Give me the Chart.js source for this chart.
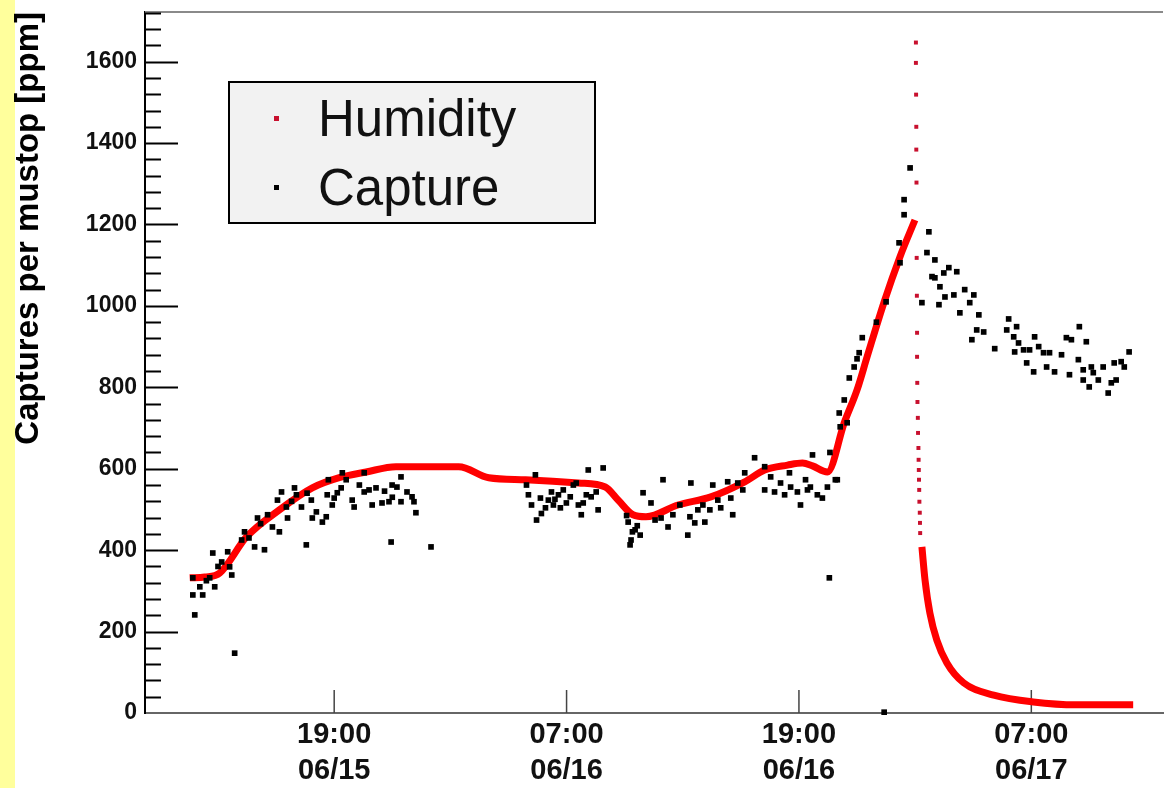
<!DOCTYPE html>
<html>
<head>
<meta charset="utf-8">
<script src="https://cdn.jsdelivr.net/npm/chart.js@4"></script>
<style>
  html, body { margin: 0; padding: 0; background: #fff; }
  #wrap { position: relative; width: 1167px; height: 788px; overflow: hidden; }
  #strip { position: absolute; left: 0; top: 0; width: 15px; height: 788px; background: #ffff9c; }
  canvas { position: absolute; left: 0; top: 0; }
</style>
</head>
<body>
<div id="wrap">
  <div id="strip"></div>
  <canvas id="chart" width="1167" height="788"></canvas>
</div>
<script>
// time axis: hours counted from 06/15 00:00
const xTickHours = [19, 31, 43, 55];
const xTickLabels = [['19:00', '06/15'], ['07:00', '06/16'], ['19:00', '06/16'], ['07:00', '06/17']];
const yTicks = [0, 200, 400, 600, 800, 1000, 1200, 1400, 1600];

// humidity curve (null = gap where the reading jumps)
const humidityHours = [11.54, 12.32, 13.09, 14.48, 16.17, 17.87, 19.26, 20.65, 22.19, 25.43, 26.98, 28.88,
  31.61, 33.0, 33.66, 34.43, 35.1, 36.75, 38.45, 40.2, 41.23, 42.41, 43.18, 43.7, 44.47, 45.34, 46.01,
  46.52, 47.40, 48.22, 48.99, 49.2,
  49.35, 49.51, 49.76, 50.12, 50.64, 51.51, 53.06, 55.10, 57.33, 60.26];
const humidityPpm = [332, 334, 344, 433, 499, 553, 578, 592, 605, 605, 578, 573,
  565, 555, 523, 487, 482, 511, 531, 568, 597, 609, 614, 607, 592, 713, 795,
  875, 1010, 1121, 1211, null,
  408, 327, 246, 179, 123, 74, 44, 27, 20, 20];

// sparse humidity samples during the fast jump and drop
const spikeHours = [49.04, 49.04, 49.05, 49.06, 49.06, 49.07, 49.08, 49.09, 49.10, 49.10, 49.11, 49.12,
  49.14, 49.15, 49.17, 49.18, 49.19, 49.20, 49.21, 49.22, 49.24, 49.25, 49.26];
const spikePpm = [1647, 1597, 1519, 1440, 1384, 1303, 1118, 1025, 934, 875, 811, 764,
  725, 688, 651, 622, 597, 573, 548, 519, 492, 467, 442];

const captureHours = [
  11.80, 11.70, 12.21, 12.06, 12.83, 11.70, 12.57, 12.73, 13.50, 13.19, 13.71, 13.60, 14.22, 14.37, 14.89,
  15.40, 15.04, 15.56, 15.81, 16.17, 16.07, 16.28, 16.59, 16.53, 16.95, 17.05, 17.31, 17.56, 17.82, 17.87,
  18.08, 18.39, 18.59, 18.64, 19.00, 18.90, 19.16, 19.36, 19.42, 19.62, 19.93, 20.03, 20.55, 20.80, 21.16,
  20.96, 21.47, 21.83, 21.99, 22.24, 22.45, 22.45, 22.76, 23.02, 23.12, 23.22, 21.94, 24.00, 20.55, 18.70,
  13.86, 12.40, 13.00, 14.60, 15.20, 16.80, 17.60, 20.30, 21.60, 22.00,
  29.39, 28.93, 29.03, 29.19, 29.45, 29.65, 29.91, 30.06, 30.22, 30.32, 30.58, 30.68, 30.83, 30.99, 31.19,
  31.35, 31.61, 31.76, 31.86, 32.02, 32.12, 32.27, 32.63, 32.89, 32.53, 31.50, 29.70, 30.40,
  34.18, 34.54, 34.80, 34.33, 34.28, 34.40, 34.65, 34.10, 34.95, 35.36, 35.57, 35.88, 35.98, 36.24, 36.49,
  36.85, 37.26, 37.37, 37.42, 37.62, 37.78, 38.04, 38.14, 38.40, 38.55, 38.81, 38.96, 39.32, 39.48, 39.58,
  39.84, 40.20, 40.10, 40.71, 41.23, 41.23, 41.54, 41.74, 42.05, 42.26, 42.51, 42.57, 42.92, 43.08, 43.34,
  43.70, 43.59, 43.44, 43.95, 44.21, 44.47, 44.88, 44.98, 44.57, 44.60,
  45.08, 45.34, 45.49, 45.13, 45.60, 45.85, 46.00, 46.11, 46.27, 47.00, 47.50, 47.40,
  48.22, 48.17, 48.43, 48.43, 48.74,
  49.71, 49.61, 50.02, 49.87, 50.02, 50.48, 50.74, 51.15, 50.28, 50.54, 51.00, 50.23, 49.35, 51.56, 52.03,
  51.82, 51.31, 52.29, 52.18, 52.54, 51.93, 53.11, 53.83, 54.24, 53.73, 54.09, 54.34, 54.60, 55.17, 54.91,
  54.14, 54.76, 55.12, 55.38, 55.63, 55.79, 56.20, 55.94, 56.56, 56.81, 57.07, 57.48, 57.84, 57.43, 56.97,
  57.68, 57.68, 58.10, 58.20, 58.46, 57.99, 58.71, 58.97, 59.13, 59.38, 59.28, 59.64, 59.80, 60.05];
const capturePpm = [
  241, 290, 290, 310, 310, 332, 332, 393, 396, 371, 339, 359, 425, 445, 408,
  401, 479, 487, 457, 445, 523, 543, 479, 506, 553, 536, 506, 413, 523, 479,
  494, 469, 482, 536, 528, 511, 541, 553, 590, 573, 523, 506, 543, 548, 553,
  511, 516, 519, 560, 555, 580, 519, 543, 531, 519, 492, 420, 408, 590, 573,
  147, 325, 360, 430, 465, 520, 540, 560, 545, 530,
  585, 560, 536, 511, 474, 528, 504, 523, 543, 511, 536, 504, 548, 516, 531,
  560, 511, 487, 516, 536, 597, 531, 499, 602, 543, 565, 490, 525,
  469, 450, 437, 425, 413, 445, 460, 485, 541, 516, 474, 479, 573, 457, 487,
  511, 437, 482, 565, 467, 499, 511, 469, 499, 560, 523, 504, 568, 528, 487,
  565, 590, 548, 627, 605, 548, 580, 543, 565, 536, 590, 555, 543, 511, 573,
  634, 555, 548, 536, 528, 555, 573, 573, 332, 640,
  737, 769, 713, 703, 823, 850, 870, 885, 922, 960, 1010, 2,
  1106, 1155, 1224, 1261, 1339,
  1182, 1131, 1113, 1072, 1069, 1081, 1094, 1084, 1047, 1022, 1027, 1003, 1008, 1040, 1027,
  1008, 983, 978, 941, 936, 917, 895, 968, 949, 941, 924, 909, 892, 924, 892,
  887, 860, 838, 900, 885, 850, 838, 885, 880, 922, 917, 949, 912, 868, 831,
  843, 818, 850, 836, 818, 801, 850, 786, 811, 818, 860, 863, 850, 887];

const FONT = '"Liberation Sans", Arial, Helvetica, sans-serif';

const toPoints = (xs, ys) => xs.map((x, i) => ({ x: x, y: ys[i] }));

// inward ticks, top frame line and the boxed legend, ROOT style
const frame = {
  id: 'frame',
  beforeDatasetsDraw(chart) {
    const { ctx, chartArea: a, scales: { x, y } } = chart;
    ctx.save();
    ctx.strokeStyle = '#8a8a8a';
    ctx.lineWidth = 2;
    ctx.beginPath();
    ctx.moveTo(a.left, a.top);
    ctx.lineTo(a.right, a.top);
    ctx.stroke();

    ctx.strokeStyle = '#000';
    ctx.lineWidth = 2;
    for (let v = 40; v <= 1720; v += 40) {
      const py = Math.round(y.getPixelForValue(v)) + 0.5;
      const len = v % 200 === 0 ? 33 : 16;
      ctx.beginPath();
      ctx.moveTo(a.left, py);
      ctx.lineTo(a.left + len, py);
      ctx.stroke();
    }
    ctx.strokeStyle = '#444';
    ctx.lineWidth = 1.5;
    xTickHours.forEach(h => {
      const px = x.getPixelForValue(h);
      ctx.beginPath();
      ctx.moveTo(px, a.bottom);
      ctx.lineTo(px, a.bottom - 23);
      ctx.stroke();
    });
    ctx.restore();
  },
  afterDraw(chart) {
    const ctx = chart.ctx;
    ctx.save();
    ctx.fillStyle = '#f2f2f2';
    ctx.fillRect(229, 82, 366, 141);
    ctx.strokeStyle = '#000';
    ctx.lineWidth = 2;
    ctx.strokeRect(229, 82, 366, 141);
    ctx.fillStyle = '#c8102e';
    ctx.fillRect(274, 116, 5, 5);
    ctx.fillStyle = '#000';
    ctx.fillRect(274, 185, 5, 5);
    ctx.font = '51px ' + FONT;
    ctx.textBaseline = 'alphabetic';
    ctx.fillStyle = '#111';
    ctx.fillText('Humidity', 318, 136);
    ctx.fillText('Capture', 318, 205);
    ctx.restore();
  }
};

new Chart(document.getElementById('chart'), {
  type: 'scatter',
  data: {
    datasets: [
      {
        label: 'Capture',
        data: toPoints(captureHours, capturePpm),
        pointStyle: 'rect',
        pointRadius: 4,
        backgroundColor: '#000',
        borderWidth: 0,
        clip: 6
      },
      {
        label: 'Humidity',
        data: toPoints(spikeHours, spikePpm),
        pointStyle: 'rect',
        pointRadius: 2.8,
        backgroundColor: '#c8102e',
        borderWidth: 0
      },
      {
        label: 'Humidity',
        data: toPoints(humidityHours, humidityPpm),
        showLine: true,
        spanGaps: false,
        borderColor: '#ff0000',
        borderWidth: 7,
        pointRadius: 0,
        cubicInterpolationMode: 'monotone'
      }
    ]
  },
  options: {
    responsive: false,
    animation: false,
    layout: { padding: { top: 12, right: 0, bottom: 0, left: 0 } },
    plugins: { legend: { display: false }, tooltip: { enabled: false } },
    scales: {
      x: {
        type: 'linear',
        min: 9.23,
        max: 61.8,
        afterBuildTicks: s => { s.ticks = xTickHours.map(v => ({ value: v })); },
        afterFit: s => { s.height = 75; s.paddingLeft = 0; s.paddingRight = 0; },
        grid: { display: false, drawTicks: false },
        border: { display: true, color: '#666', width: 2 },
        ticks: {
          autoSkip: false,
          maxRotation: 0,
          padding: 4,
          color: '#111',
          font: { family: FONT, size: 29, weight: 'bold', lineHeight: 1.24 },
          callback: (v, i) => xTickLabels[i]
        }
      },
      y: {
        min: 0,
        max: 1722,
        afterBuildTicks: s => { s.ticks = yTicks.map(v => ({ value: v })); },
        afterFit: s => { s.width = 145; s.paddingTop = 0; s.paddingBottom = 0; },
        grid: { display: false, drawTicks: false },
        border: { display: true, color: '#000', width: 2 },
        ticks: {
          padding: 8,
          color: '#111',
          font: { family: FONT, size: 23, weight: 'bold' },
          callback: v => String(v)
        },
        title: {
          display: true,
          text: 'Captures per mustop [ppm]',
          align: 'end',
          color: '#000',
          font: { family: FONT, size: 33, weight: 'bold' },
          padding: { top: 9, bottom: 0 }
        }
      }
    }
  },
  plugins: [frame]
});
</script>
</body>
</html>
